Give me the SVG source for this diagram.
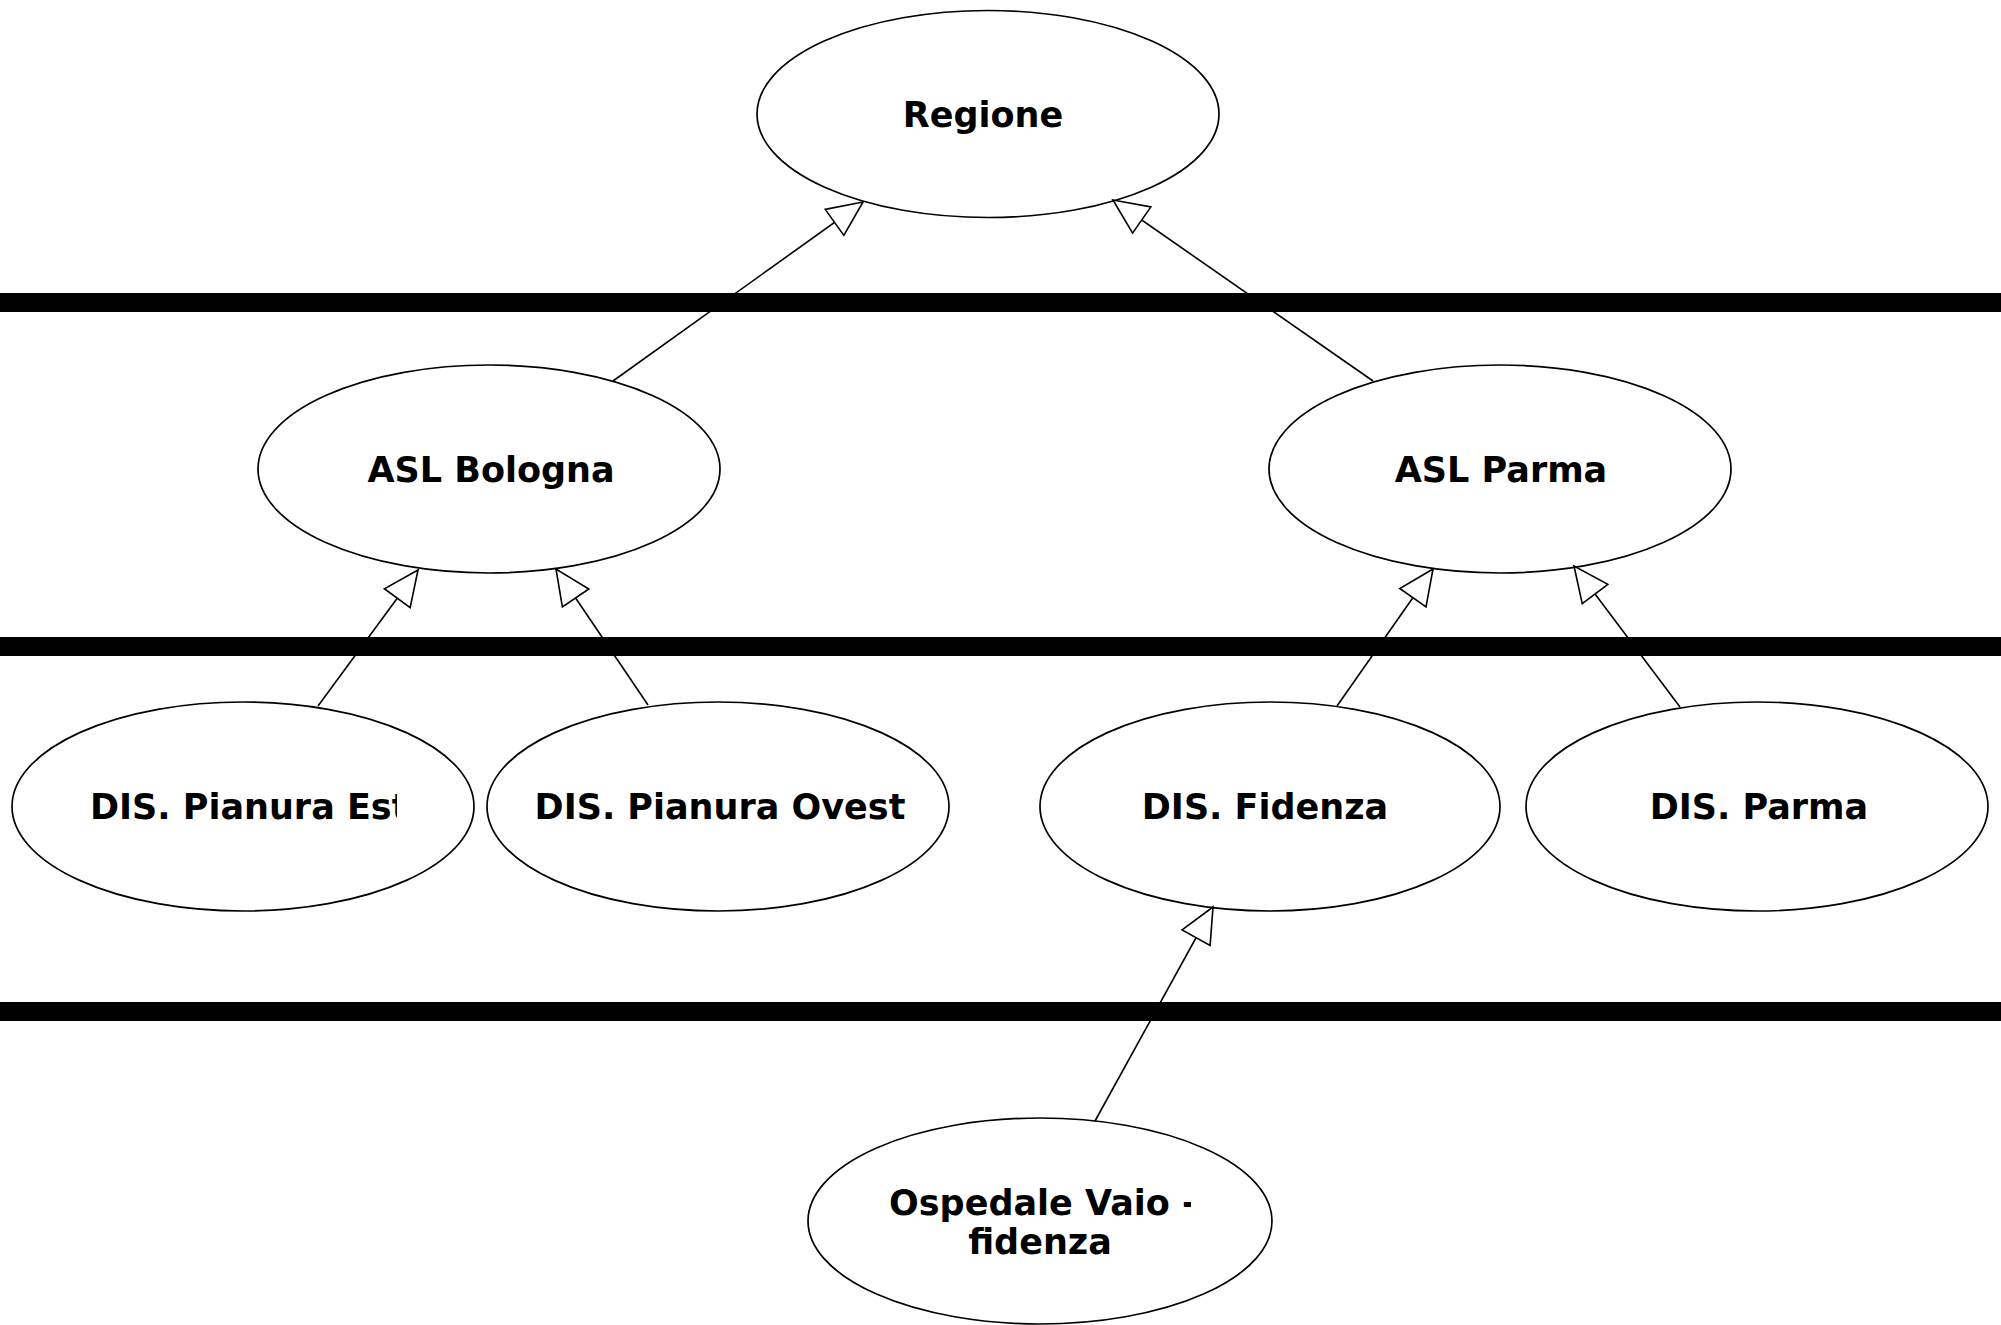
<svg xmlns="http://www.w3.org/2000/svg" width="2001" height="1325" viewBox="0 0 2001 1325">
  <style>
    .node ellipse { fill: #ffffff; stroke: #000000; stroke-width: 1.7; }
    .node text { font-family: "DejaVu Sans", "Liberation Sans", sans-serif; font-weight: bold; font-size: 35px; fill: #000000; }
    .mid { text-anchor: middle; }
    .edge { stroke: #000000; stroke-width: 1.6; fill: none; marker-end: url(#open-tri); }
    .bar { fill: #000000; }
  </style>
  <defs>
    <marker id="open-tri" markerUnits="userSpaceOnUse" viewBox="-37 -18 39 36" refX="0" refY="0" markerWidth="39" markerHeight="36" orient="auto">
      <path d="M0,0 L-35,-16 L-35,16 Z" fill="#ffffff" stroke="#000000" stroke-width="1.6" stroke-linejoin="miter"/>
    </marker>
    <clipPath id="clip-est"><rect x="0" y="760" width="397" height="100"/></clipPath>
    <clipPath id="clip-osp"><rect x="800" y="1170" width="391" height="60"/></clipPath>
  </defs>
  <rect width="2001" height="1325" fill="#ffffff"/>

  <g id="bars">
    <rect class="bar" x="0" y="293" width="2001" height="19"/>
    <rect class="bar" x="0" y="637" width="2001" height="19"/>
    <rect class="bar" x="0" y="1002" width="2001" height="19"/>
  </g>

  <g id="node-regione" class="node">
    <ellipse cx="988" cy="114" rx="231" ry="103.5"/>
    <text class="mid" x="983" y="127">Regione</text>
  </g>
  <g id="node-asl-bologna" class="node">
    <ellipse cx="489" cy="469" rx="231" ry="104"/>
    <text class="mid" x="491" y="482">ASL Bologna</text>
  </g>
  <g id="node-asl-parma" class="node">
    <ellipse cx="1500" cy="469" rx="231" ry="104"/>
    <text class="mid" x="1501" y="482">ASL Parma</text>
  </g>
  <g id="node-dis-pianura-est" class="node">
    <ellipse cx="243" cy="806.5" rx="231" ry="104.5"/>
    <text x="90" y="819" clip-path="url(#clip-est)">DIS. Pianura Est</text>
  </g>
  <g id="node-dis-pianura-ovest" class="node">
    <ellipse cx="718" cy="806.5" rx="231" ry="104.5"/>
    <text class="mid" x="720" y="819">DIS. Pianura Ovest</text>
  </g>
  <g id="node-dis-fidenza" class="node">
    <ellipse cx="1270" cy="806.5" rx="230" ry="104.5"/>
    <text class="mid" x="1265" y="819">DIS. Fidenza</text>
  </g>
  <g id="node-dis-parma" class="node">
    <ellipse cx="1757" cy="806.5" rx="231" ry="104.5"/>
    <text class="mid" x="1759" y="819">DIS. Parma</text>
  </g>
  <g id="node-ospedale" class="node">
    <ellipse cx="1040" cy="1221" rx="232" ry="103"/>
    <text x="889" y="1215" clip-path="url(#clip-osp)">Ospedale Vaio -</text>
    <text class="mid" x="1040" y="1254">fidenza</text>
  </g>

  <g id="connectors">
    <line class="edge" x1="613" y1="381" x2="863" y2="202"/>
    <line class="edge" x1="1373" y1="381" x2="1113" y2="200"/>
    <line class="edge" x1="318" y1="706" x2="418" y2="570"/>
    <line class="edge" x1="648" y1="705" x2="556" y2="569"/>
    <line class="edge" x1="1337" y1="706" x2="1433" y2="569"/>
    <line class="edge" x1="1680" y1="707" x2="1574" y2="566"/>
    <line class="edge" x1="1095" y1="1121" x2="1213" y2="907"/>
  </g>
</svg>
